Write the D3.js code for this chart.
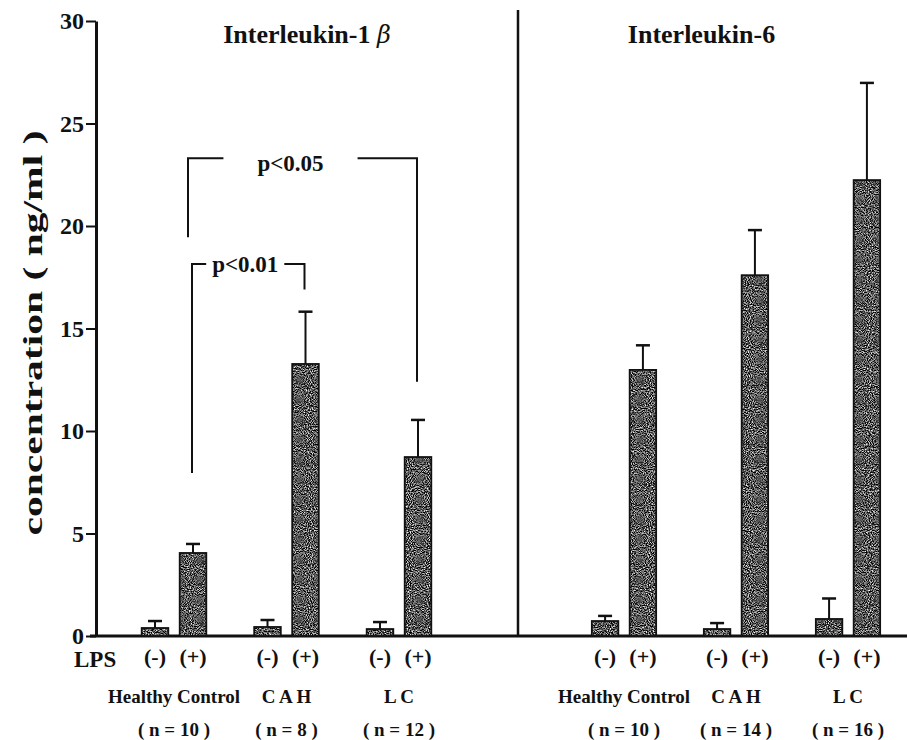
<!DOCTYPE html>
<html>
<head>
<meta charset="utf-8">
<script src="https://cdn.jsdelivr.net/npm/d3@7"></script>
<style>
  body { margin: 0; background: #fff; }
  svg text { font-family: "Liberation Serif", "Times New Roman", serif; font-weight: bold; fill: #111; }
</style>
</head>
<body>
<div id="chart"></div>
<script>
// data (ng/ml, mean and upper error)
var groups = ["Healthy Control", "C A H", "L C"];
var lpsLevels = ["(-)", "(+)"];
var il1Mean = [0.39, 4.05, 0.44, 13.27, 0.34, 8.73];
var il1Err = [0.34, 0.44, 0.34, 2.55, 0.34, 1.81];
var il6Mean = [0.73, 12.98, 0.34, 17.6, 0.83, 22.24];
var il6Err = [0.25, 1.2, 0.29, 2.2, 1.0, 4.74];
var il1N = ["( n = 10 )", "( n = 8 )", "( n = 12 )"];
var il6N = ["( n = 10 )", "( n = 14 )", "( n = 16 )"];
var yTicks = [0, 5, 10, 15, 20, 25, 30];

// significance brackets (IL-1 panel), both between (+) bars
var sigFrom = ["Healthy Control", "Healthy Control"];
var sigTo = ["L C", "C A H"];
var sigTop = [23.3, 18.15];
var sigLeftEnd = [19.45, 7.95];
var sigRightEnd = [12.4, 16.9];
var sigLabels = ["p<0.05", "p<0.01"];

var width = 907, height = 740;
var axisX = 96, dividerX = 518;

var svg = d3.select("#chart")
  .append("svg")
    .attr("width", width)
    .attr("height", height);

// grainy grey fill like the printed bars
var defs = svg.append("defs");
var grain = defs.append("filter").attr("id", "grain")
  .attr("color-interpolation-filters", "sRGB")
  .attr("x", 0).attr("y", 0).attr("width", 1).attr("height", 1);
grain.append("feTurbulence")
  .attr("type", "fractalNoise").attr("baseFrequency", 0.95)
  .attr("numOctaves", 1).attr("seed", 7).attr("result", "noise");
grain.append("feColorMatrix").attr("in", "noise").attr("type", "matrix")
  .attr("values", "2.4 0 0 0 -0.86  2.4 0 0 0 -0.86  2.4 0 0 0 -0.86  0 0 0 0 1")
  .attr("result", "grey");
grain.append("feComposite").attr("in", "grey").attr("in2", "SourceGraphic").attr("operator", "in");

var y = d3.scaleLinear().domain([0, 30]).range([636, 21]);

// one group scale per panel, one inner scale for the LPS pair
var panels = [
  { title: "Interleukin-1", mean: il1Mean, err: il1Err, n: il1N, x0: axisX, x1: dividerX,
    groupX: d3.scaleBand().domain(groups).range([117.75, 455.25]) },
  { title: "Interleukin-6", mean: il6Mean, err: il6Err, n: il6N, x0: dividerX, x1: width - 10,
    groupX: d3.scaleBand().domain(groups).range([568, 904]) }
];

panels.forEach(function(p) {
  var inner = d3.scaleBand().domain(lpsLevels)
    .range([0, p.groupX.step()])
    .paddingInner(0.3).paddingOuter(0.63);
  p.inner = inner;
  p.rows = [];
  groups.forEach(function(g, gi) {
    lpsLevels.forEach(function(l, li) {
      p.rows.push({ group: g, lps: l, mean: p.mean[gi * 2 + li], err: p.err[gi * 2 + li],
        x: p.groupX(g) + inner(l), w: inner.bandwidth() });
    });
  });
});

// y axis
var yAxis = svg.append("g")
  .attr("transform", "translate(" + axisX + ",0)")
  .call(d3.axisLeft(y).tickValues(yTicks).tickSize(10).tickSizeOuter(0).tickPadding(2));
yAxis.select(".domain").attr("stroke", "#111").attr("stroke-width", 3);
yAxis.selectAll(".tick line").attr("stroke", "#111").attr("stroke-width", 2);
yAxis.selectAll(".tick text").style("font-size", "24px").attr("fill", "#111");

svg.append("text")
  .attr("transform", "translate(42," + 333 + ") rotate(-90)")
  .attr("text-anchor", "middle")
  .attr("textLength", 405)
  .attr("lengthAdjust", "spacingAndGlyphs")
  .style("font-size", "28px")
  .text("concentration ( ng/ml )");

// baseline and panel divider
svg.append("line")
  .attr("x1", 90).attr("x2", width).attr("y1", y(0)).attr("y2", y(0))
  .attr("stroke", "#111").attr("stroke-width", 3);
svg.append("line")
  .attr("x1", dividerX).attr("x2", dividerX).attr("y1", 10).attr("y2", y(0))
  .attr("stroke", "#111").attr("stroke-width", 2.5);

panels.forEach(function(p, pi) {
  var g = svg.append("g");

  // title
  var t = g.append("text")
    .attr("x", (p.x0 + p.x1) / 2 + (pi === 0 ? 0 : -6))
    .attr("y", 43)
    .attr("text-anchor", "middle")
    .style("font-size", "26px")
    .text(p.title);
  if (pi === 0) {
    t.append("tspan").text("  ");
    t.append("tspan")
      .style("font-style", "italic").style("font-weight", "normal")
      .style("font-family", "'DejaVu Serif', serif").style("font-size", "24px")
      .text("\u03B2");
  }

  // error bars (upper only)
  var eb = g.selectAll(".err").data(p.rows).enter().append("g").attr("class", "err");
  eb.append("line")
    .attr("x1", function(d) { return d.x + d.w / 2; })
    .attr("x2", function(d) { return d.x + d.w / 2; })
    .attr("y1", function(d) { return y(d.mean); })
    .attr("y2", function(d) { return y(d.mean + d.err); })
    .attr("stroke", "#111").attr("stroke-width", 2);
  eb.append("line")
    .attr("x1", function(d) { return d.x + d.w / 2 - 7; })
    .attr("x2", function(d) { return d.x + d.w / 2 + 7; })
    .attr("y1", function(d) { return y(d.mean + d.err); })
    .attr("y2", function(d) { return y(d.mean + d.err); })
    .attr("stroke", "#111").attr("stroke-width", 2.5);

  // bars: textured fill + outline
  g.selectAll(".bar").data(p.rows).enter().append("rect")
    .attr("class", "bar")
    .attr("x", function(d) { return d.x; })
    .attr("y", function(d) { return y(d.mean); })
    .attr("width", function(d) { return d.w; })
    .attr("height", function(d) { return y(0) - y(d.mean); })
    .attr("fill", "#000")
    .attr("filter", "url(#grain)");
  g.selectAll(".outline").data(p.rows).enter().append("rect")
    .attr("class", "outline")
    .attr("x", function(d) { return d.x; })
    .attr("y", function(d) { return y(d.mean); })
    .attr("width", function(d) { return d.w; })
    .attr("height", function(d) { return y(0) - y(d.mean); })
    .attr("fill", "none")
    .attr("stroke", "#111").attr("stroke-width", 1.8);

  // LPS (-)/(+) labels
  g.selectAll(".lps").data(p.rows).enter().append("text")
    .attr("x", function(d) { return d.x + d.w / 2; })
    .attr("y", 664)
    .attr("text-anchor", "middle")
    .style("font-size", "22px")
    .text(function(d) { return d.lps; });

  // group names and n
  g.selectAll(".grp").data(groups).enter().append("text")
    .attr("x", function(d) { return p.groupX(d) + p.groupX.step() / 2; })
    .attr("y", 703)
    .attr("text-anchor", "middle")
    .style("font-size", "19px")
    .text(function(d) { return d; });
  g.selectAll(".nn").data(p.n).enter().append("text")
    .attr("x", function(d, i) { return p.groupX(groups[i]) + p.groupX.step() / 2; })
    .attr("y", 736)
    .attr("text-anchor", "middle")
    .style("font-size", "19px")
    .text(function(d) { return d; });
});

svg.append("text")
  .attr("x", 74).attr("y", 667)
  .style("font-size", "23px")
  .text("LPS");

// significance brackets
var p0 = panels[0];
function plusCenter(grp) {
  return p0.groupX(grp) + p0.inner("(+)") + p0.inner.bandwidth() / 2;
}
var labelShift = [-12, -3];
var gapPad = [34, 6];
sigLabels.forEach(function(lab, i) {
  var xl = plusCenter(sigFrom[i]) - (i === 0 ? 5 : 1);
  var xr = plusCenter(sigTo[i]) - 1;
  var yt = y(sigTop[i]);
  var cx = (xl + xr) / 2 + labelShift[i];
  var txt = svg.append("text")
    .attr("x", cx)
    .attr("y", yt + (i === 0 ? 13 : 8))
    .attr("text-anchor", "middle")
    .style("font-size", "23px")
    .text(lab);
  var half = txt.node().getComputedTextLength() / 2 + gapPad[i];
  var path = d3.path();
  path.moveTo(xl, y(sigLeftEnd[i]));
  path.lineTo(xl, yt);
  path.lineTo(cx - half, yt);
  path.moveTo(cx + half, yt);
  path.lineTo(xr, yt);
  path.lineTo(xr, y(sigRightEnd[i]));
  svg.append("path")
    .attr("d", path.toString())
    .attr("fill", "none")
    .attr("stroke", "#111").attr("stroke-width", 2);
});
</script>
</body>
</html>
